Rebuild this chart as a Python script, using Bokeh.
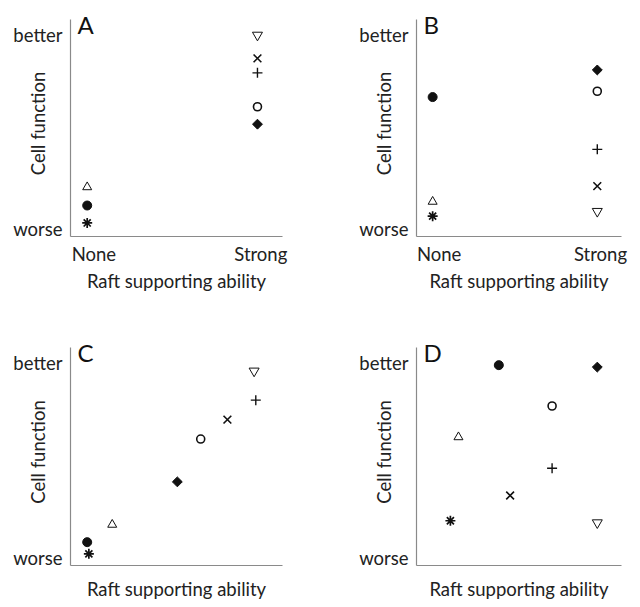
import math
from bokeh.plotting import figure
from bokeh.models import Range1d, FixedTicker, ColumnDataSource, Label
from bokeh.layouts import gridplot
from bokeh.embed import file_html
from bokeh.resources import INLINE

# ---------------- data ----------------
symbols = ["nabla", "x", "plus", "o", "diamond", "delta", "dot", "asterisk"]

a_x = [0.98, 0.98, 0.98, 0.98, 0.98, -0.04, -0.04, -0.04]
a_y = [1.00, 0.88, 0.805, 0.63, 0.54, 0.215, 0.12, 0.03]

b_x = [0.98, 0.98, 0.98, 0.98, 0.98, -0.04, -0.04, -0.04]
b_y = [0.09, 0.22, 0.41, 0.71, 0.82, 0.14, 0.68, 0.065]

c_x = [0.96, 0.80, 0.97, 0.64, 0.50, 0.11, -0.04, -0.03]
c_y = [0.96, 0.71, 0.81, 0.61, 0.39, 0.17, 0.08, 0.02]

d_x = [0.98, 0.44, 0.70, 0.70, 0.98, 0.12, 0.37, 0.07]
d_y = [0.18, 0.32, 0.46, 0.78, 0.98, 0.62, 0.99, 0.19]

panel_letters = ["A", "B", "C", "D"]
y_tick_labels = {0: "worse", 1: "better"}
x_tick_labels = {0: "None", 1: "Strong"}
x_title = "Raft supporting ability"
y_title = "Cell function"

# axis extents (data units)
X_START, X_END = -0.14, 1.13
Y_START, Y_AXIS_END, Y_VIEW_END = -0.04, 1.08, 1.127

# ---------------- styles ----------------
FONT = "Lato"
FS = "18.5px"
INK = "#111111"
AXIS = "#8a8a8a"
style = {
    "nabla":    dict(marker="inverted_triangle", size=10, fill=False, lw=1.0, angle=0.0),
    "x":        dict(marker="x", size=11, fill=False, lw=1.6, angle=0.0),
    "plus":     dict(marker="cross", size=10, fill=False, lw=1.4, angle=0.0),
    "o":        dict(marker="circle", size=8, fill=False, lw=1.6, angle=0.0),
    "diamond":  dict(marker="square", size=7, fill=True, lw=1.0, angle=math.pi / 4),
    "delta":    dict(marker="triangle", size=9, fill=False, lw=1.0, angle=0.0),
    "dot":      dict(marker="circle", size=9, fill=True, lw=1.0, angle=0.0),
    "asterisk": dict(marker="asterisk", size=10, fill=False, lw=1.7, angle=0.0),
}


def make_panel(xs, ys, letter, show_x_ticks, width, height, bl, br, bt, bb):
    p = figure(width=width, height=height, output_backend="svg",
               toolbar_location=None, tools="",
               x_range=Range1d(X_START, X_END), y_range=Range1d(Y_START, Y_VIEW_END),
               min_border_left=bl, min_border_right=br,
               min_border_top=bt, min_border_bottom=bb)
    p.outline_line_color = None
    p.grid.visible = False
    p.background_fill_color = "white"
    p.border_fill_color = "white"

    src = ColumnDataSource(dict(
        x=xs, y=ys,
        marker=[style[s]["marker"] for s in symbols],
        size=[style[s]["size"] for s in symbols],
        fill=[INK if style[s]["fill"] else None for s in symbols],
        lw=[style[s]["lw"] for s in symbols],
        angle=[style[s]["angle"] for s in symbols],
    ))
    p.scatter("x", "y", source=src, marker="marker", size="size", angle="angle",
              fill_color="fill", line_color=INK, line_width="lw")

    for ax in (p.xaxis[0], p.yaxis[0]):
        ax.axis_line_color = AXIS
        ax.axis_line_width = 1.2
        ax.major_tick_line_color = None
        ax.minor_tick_line_color = None
        ax.major_tick_out = 0
        ax.major_tick_in = 0
        ax.minor_tick_out = 0
        ax.minor_tick_in = 0
        ax.major_label_text_font = FONT
        ax.major_label_text_font_size = FS
        ax.major_label_text_color = "#222222"
        ax.axis_label_text_font = FONT
        ax.axis_label_text_font_size = FS
        ax.axis_label_text_font_style = "normal"
        ax.axis_label_text_color = "#222222"
        ax.major_label_standoff = 8

    p.yaxis.ticker = FixedTicker(ticks=list(y_tick_labels.keys()))
    p.yaxis.major_label_overrides = y_tick_labels
    p.yaxis.axis_label = y_title
    p.yaxis.axis_label_standoff = -39
    p.yaxis.bounds = (Y_START, Y_AXIS_END)

    p.xaxis.major_label_standoff = 6
    if show_x_ticks:
        p.xaxis.ticker = FixedTicker(ticks=list(x_tick_labels.keys()))
        p.xaxis.major_label_overrides = x_tick_labels
        p.xaxis.axis_label_standoff = 2
    else:
        p.xaxis.ticker = FixedTicker(ticks=[])
        p.xaxis.axis_label_standoff = 12
    p.xaxis.axis_label = x_title

    p.add_layout(Label(x=X_START, y=Y_AXIS_END, x_offset=7, y_offset=10,
                       text=letter, text_font=FONT, text_font_size="24px",
                       text_color=INK, text_baseline="top", text_align="left"))
    return p


pa = make_panel(a_x, a_y, panel_letters[0], True, 320, 300, 70, 38, 10, 64)
pb = make_panel(b_x, b_y, panel_letters[1], True, 320, 300, 88, 19, 10, 64)
pc = make_panel(c_x, c_y, panel_letters[2], False, 320, 306, 70, 38, 38, 41)
pd = make_panel(d_x, d_y, panel_letters[3], False, 320, 306, 96, 14, 38, 41)

grid = gridplot([[pa, pb], [pc, pd]], toolbar_location=None)

open("out.html", "w").write(file_html(grid, INLINE))
